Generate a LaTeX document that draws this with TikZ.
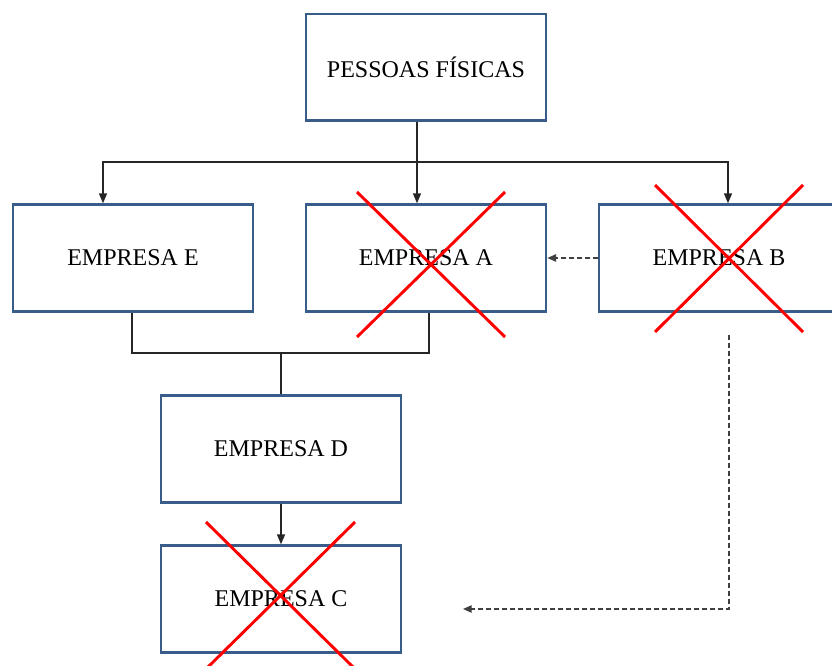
\documentclass[tikz,border=0pt]{standalone}
\usepackage{fontspec}
\setmainfont{Liberation Serif}
\usetikzlibrary{arrows.meta,calc}
\definecolor{boxblue}{RGB}{56,93,138}

\begin{document}
\begin{tikzpicture}[x=0.75pt, y=-0.75pt,
        empbox/.style = {rectangle, draw=boxblue, line width=2pt,
                         minimum width=180pt, minimum height=80pt,
                         inner sep=0pt, fill=white,
                         font=\fontsize{18}{20}\selectfont},
        line/.style   = {black!85, line width=1.1pt},
        arr/.style    = {line, -{Triangle[length=7.5pt,width=6pt]}},
        darr/.style   = {black!75, line width=0.9pt, dash pattern=on 3.5pt off 2.5pt,
                         -{Triangle[length=6.5pt,width=5.5pt]}},
        cross/.style  = {red, line width=2.2pt}
    ]
        \useasboundingbox (0,0) rectangle (832,666);

        \node[empbox] (pf) at (426,67.5) {PESSOAS FÍSICAS};
        \node[empbox] (e)  at (133,258)  {EMPRESA E};
        \node[empbox] (a)  at (426,258)  {EMPRESA A};
        \node[empbox] (b)  at (719,258)  {EMPRESA B};
        \node[empbox] (d)  at (281,449)  {EMPRESA D};
        \node[empbox] (c)  at (281,599)  {EMPRESA C};

        \coordinate (hub)   at (417,162);
        \coordinate (join)  at (281,353);
        \coordinate (bdrop) at (729,335);
        \coordinate (cend)  at (463,609);

        % pessoas fisicas -> empresas
        \draw[line] ($(pf.south)+(-9,0)$) -- (hub);
        \draw[arr] (hub) -| ($(e.north)+(-30,0)$);
        \draw[arr] (hub) -| ($(b.north)+(9,0)$);
        \draw[arr] (hub) -- ($(a.north)+(-9,0)$);

        % E e A -> D -> C
        \draw[line] ($(e.south)+(-1,0)$) |- (join) -| ($(a.south)+(3,0)$);
        \draw[line] (join) -- (d.north);
        \draw[arr] (d.south) -- (c.north);

        \draw[darr] (b.west) -- (a.east);
        \draw[darr] (bdrop) |- (cend);

        % cruzes
        \draw[cross] (357,192) -- (505,337) (505,192) -- (357,337);
        \draw[cross] (655,185) -- (803,332) (803,185) -- (655,332);
        \draw[cross] (206,522) -- (355,669) (355,522) -- (206,669);
    \end{tikzpicture}
\end{document}
